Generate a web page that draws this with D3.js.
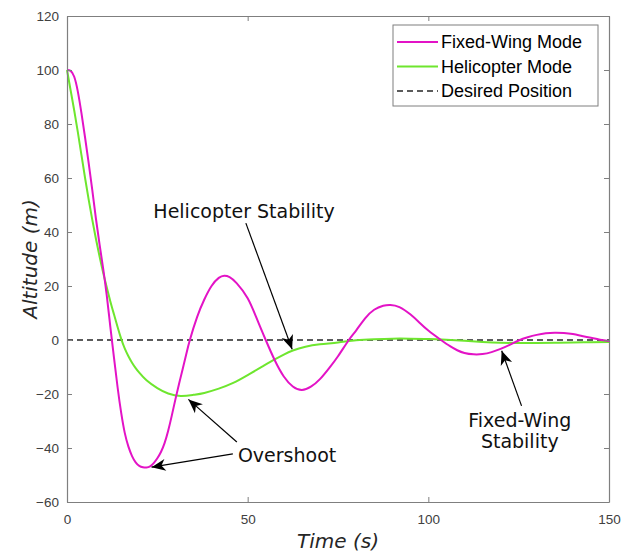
<!DOCTYPE html>
<html>
<head>
<meta charset="utf-8">
<script src="https://cdn.jsdelivr.net/npm/d3@7"></script>
<style>
  body { margin: 0; background: #fff; }
  svg { display: block; }
</style>
</head>
<body>
<svg id="chart" width="640" height="555"></svg>
<script>
// time (s) and altitude (m)
const fixedT = [0, 1, 2, 3, 4, 5, 6, 7, 8, 9, 10, 11, 12, 13, 14, 15, 16, 17, 18, 19, 20, 21, 22, 23, 24, 25, 26, 27, 28, 29, 30, 31, 32, 33, 34, 36, 38, 40, 42, 43.5, 45, 47, 50, 52.5, 55, 57.5, 60, 62.5, 65, 67.5, 70, 72.5, 75, 78, 80, 82.5, 85, 87.5, 89.5, 92, 95, 97.5, 100, 103.5, 106, 108, 110, 112.5, 115, 117.5, 120, 122.5, 125, 127.5, 130, 132.5, 135, 137.5, 140, 142.5, 145, 147.5, 150];
const fixedAlt = [100, 99.7, 97.5, 92, 84, 75, 65.5, 55.5, 45, 35.5, 26.5, 16.5, 4.8, -6.5, -17.5, -27, -34.5, -39.5, -43, -45.3, -46.6, -47.1, -47.2, -46.8, -45.6, -43.8, -41.5, -38.2, -33.6, -28, -22, -16.3, -10.8, -5.3, 0, 8.5, 15, 20, 23, 23.8, 23.3, 21, 15.5, 8, 0, -7.5, -13.5, -17.2, -18.5, -17.3, -14.5, -10.5, -6, 0, 3.5, 8, 11.2, 12.7, 13, 12.2, 9.5, 6.5, 3.5, 0, -2.3, -3.8, -4.8, -5.3, -5.2, -4.5, -3.3, -1.8, -0.2, 1, 1.9, 2.5, 2.7, 2.6, 2.2, 1.5, 0.8, 0.1, -0.4];

const heliT = [0, 1, 2, 3, 4, 5, 6, 7, 8, 9, 10, 11, 12, 13, 14, 15, 16, 17, 18, 19, 20, 22, 25, 28, 31.5, 35, 38, 42, 46, 50, 54, 57.5, 60, 62.5, 66, 70, 75, 80, 85, 90, 95, 100, 105, 110, 115, 120, 125, 130, 135, 140, 145, 150];
const heliAlt = [100, 92.5, 85, 77, 68.5, 60, 52, 44.5, 37.5, 31, 25, 19.5, 14.3, 9.5, 4.8, 0.4, -3.2, -6, -8.4, -10.4, -12.1, -14.9, -17.8, -19.8, -20.7, -20.3, -19.6, -18, -15.9, -13, -9.9, -7.2, -5.4, -3.9, -2.5, -1.6, -0.9, -0.1, 0.3, 0.5, 0.5, 0.4, 0.1, -0.3, -0.7, -1, -1.1, -1.1, -1, -0.9, -0.8, -0.7];

const desiredT = [0, 150];
const desiredAlt = [0, 0];

const xTicks = [0, 50, 100, 150];
const yTicks = [-60, -40, -20, 0, 20, 40, 60, 80, 100, 120];

const legendLabels = ["Fixed-Wing Mode", "Helicopter Mode", "Desired Position"];

const svg = d3.select("#chart");
const margin = { left: 67, top: 16, right: 31, bottom: 53 };
const width = 640 - margin.left - margin.right;
const height = 555 - margin.top - margin.bottom;

const x = d3.scaleLinear().domain([0, 150]).range([0, width]);
const y = d3.scaleLinear().domain([-60, 120]).range([height, 0]);

const g = svg.append("g").attr("transform", `translate(${margin.left},${margin.top})`);

const axisColor = "#7f7f7f";
const labelColor = "#404040";

// data lines
const line = d3.line().x(d => x(d[0])).y(d => y(d[1])).curve(d3.curveNatural);

g.append("path")
  .datum(desiredT.map((t, i) => [t, desiredAlt[i]]))
  .attr("d", line)
  .attr("fill", "none")
  .attr("stroke", "#262626")
  .attr("stroke-width", 1.5)
  .attr("stroke-dasharray", "6,4");

g.append("path")
  .datum(heliT.map((t, i) => [t, heliAlt[i]]))
  .attr("d", line)
  .attr("fill", "none")
  .attr("stroke", "#6ee62e")
  .attr("stroke-width", 2);

g.append("path")
  .datum(fixedT.map((t, i) => [t, fixedAlt[i]]))
  .attr("d", line)
  .attr("fill", "none")
  .attr("stroke", "#e313c6")
  .attr("stroke-width", 2);

// axes, box with inward ticks on all four sides
const styleAxis = sel => {
  sel.select(".domain").attr("stroke", axisColor).attr("stroke-width", 1.2);
  sel.selectAll(".tick line").attr("stroke", axisColor).attr("stroke-width", 1);
  sel.selectAll(".tick text")
    .attr("fill", labelColor)
    .style("font-family", "'Liberation Sans', Arial, sans-serif")
    .style("font-size", "13.5px");
};

g.append("g")
  .attr("transform", `translate(0,${height})`)
  .call(d3.axisBottom(x).tickValues(xTicks).tickSizeInner(-5).tickSizeOuter(0).tickPadding(12))
  .call(styleAxis);

g.append("g")
  .call(d3.axisLeft(y).tickValues(yTicks).tickSizeInner(-5).tickSizeOuter(0).tickPadding(8))
  .call(styleAxis);

g.append("g")
  .call(d3.axisTop(x).tickValues(xTicks).tickSizeInner(-5).tickSizeOuter(0).tickFormat(""))
  .call(styleAxis);

g.append("g")
  .attr("transform", `translate(${width},0)`)
  .call(d3.axisRight(y).tickValues(yTicks).tickSizeInner(-5).tickSizeOuter(0).tickFormat(""))
  .call(styleAxis);

// axis labels
svg.append("text")
  .attr("x", margin.left + width / 2)
  .attr("y", 548)
  .attr("text-anchor", "middle")
  .attr("fill", "#262626")
  .style("font-family", "'DejaVu Sans', sans-serif")
  .style("font-style", "italic")
  .style("font-size", "20px")
  .text("Time (s)");

svg.append("text")
  .attr("transform", `translate(37,${margin.top + height / 2}) rotate(-90)`)
  .attr("text-anchor", "middle")
  .attr("fill", "#262626")
  .style("font-family", "'DejaVu Sans', sans-serif")
  .style("font-style", "italic")
  .style("font-size", "20px")
  .text("Altitude (m)");

// annotations (arrows in data coordinates)
svg.append("defs").append("marker")
  .attr("id", "head")
  .attr("viewBox", "-15 -7 17 14")
  .attr("refX", 0).attr("refY", 0)
  .attr("markerWidth", 17).attr("markerHeight", 14)
  .attr("markerUnits", "userSpaceOnUse")
  .attr("orient", "auto")
  .append("path")
  .attr("d", "M0,0 L-14,-6 L-10,0 L-14,6 Z")
  .attr("fill", "#000");

const arrows = [
  { from: [49.5, 43.3], to: [62.3, -3.4] },
  { from: [47.0, -37.8], to: [33.6, -22.0] },
  { from: [45.9, -42.2], to: [23.4, -47.1] },
  { from: [125.8, -24.4], to: [120.3, -4.0] }
];

g.selectAll(".arrow")
  .data(arrows)
  .join("line")
  .attr("class", "arrow")
  .attr("x1", d => x(d.from[0])).attr("y1", d => y(d.from[1]))
  .attr("x2", d => x(d.to[0])).attr("y2", d => y(d.to[1]))
  .attr("stroke", "#000")
  .attr("stroke-width", 1.2)
  .attr("marker-end", "url(#head)");

const notes = [
  { text: "Helicopter Stability", t: 49, v: 45.2, anchor: "middle" },
  { text: "Overshoot", t: 47.3, v: -45.2, anchor: "start" },
  { text: "Fixed-Wing", t: 125.3, v: -32.1, anchor: "middle" },
  { text: "Stability", t: 125.3, v: -40.1, anchor: "middle" }
];

g.selectAll(".note")
  .data(notes)
  .join("text")
  .attr("class", "note")
  .attr("x", d => x(d.t))
  .attr("y", d => y(d.v))
  .attr("text-anchor", d => d.anchor)
  .attr("fill", "#111")
  .style("font-family", "'DejaVu Sans', Verdana, sans-serif")
  .style("font-size", "19px")
  .text(d => d.text);

// legend
const legend = svg.append("g").attr("transform", "translate(393,25)");
legend.append("rect")
  .attr("width", 205).attr("height", 81)
  .attr("fill", "#fff")
  .attr("stroke", axisColor)
  .attr("stroke-width", 1);

const legendStyles = [
  { color: "#e313c6", dash: null, width: 2 },
  { color: "#6ee62e", dash: null, width: 2 },
  { color: "#262626", dash: "6,4", width: 1.5 }
];

const items = legend.selectAll(".item")
  .data(legendLabels)
  .join("g")
  .attr("class", "item")
  .attr("transform", (d, i) => `translate(0,${17 + i * 24.5})`);

items.append("line")
  .attr("x1", 4).attr("x2", 45)
  .attr("stroke", (d, i) => legendStyles[i].color)
  .attr("stroke-width", (d, i) => legendStyles[i].width)
  .attr("stroke-dasharray", (d, i) => legendStyles[i].dash);

items.append("text")
  .attr("x", 48)
  .attr("y", 6)
  .attr("fill", "#000")
  .style("font-family", "'Liberation Sans', Arial, sans-serif")
  .style("font-size", "18px")
  .text(d => d);
</script>
</body>
</html>
